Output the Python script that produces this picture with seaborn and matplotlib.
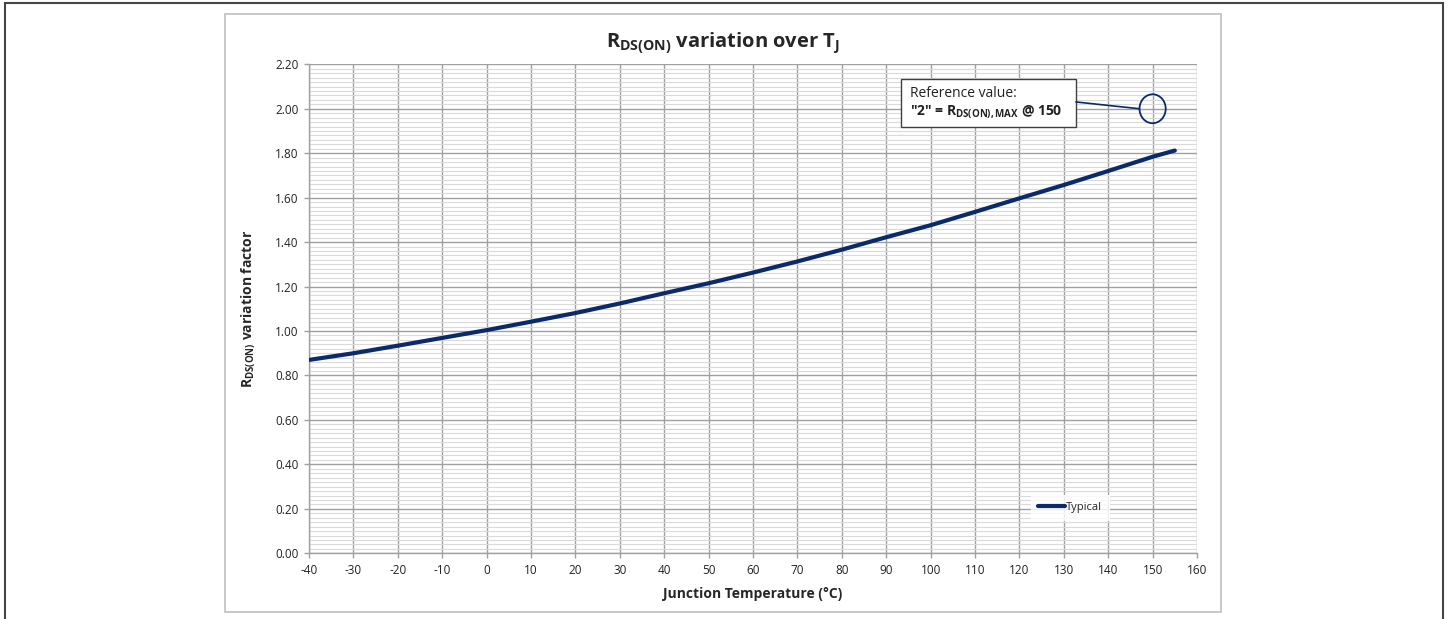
import matplotlib
matplotlib.use("Agg")
import matplotlib.pyplot as plt
from matplotlib.patches import Ellipse, Rectangle
from matplotlib.ticker import MultipleLocator
import seaborn as sns
import pandas as pd

# junction temperature (°C) and typical Rds(on) variation factor
temps = [-40, -30, -20, -10, 0, 10, 20, 30, 40, 50, 60, 70, 80, 90, 100, 110, 120, 130, 140, 150, 155]
factor = [0.870, 0.900, 0.934, 0.969, 1.004, 1.042, 1.081, 1.124, 1.170, 1.215, 1.263, 1.313, 1.366,
          1.422, 1.476, 1.536, 1.597, 1.657, 1.720, 1.784, 1.812]
x_ticks = list(range(-40, 161, 10))
y_ticks = [0.0, 0.2, 0.4, 0.6, 0.8, 1.0, 1.2, 1.4, 1.6, 1.8, 2.0, 2.2]
ref_temp = 150
ref_value = 2.0

df = pd.DataFrame({"Tj": temps, "factor": factor})

sns.set_theme(style="white")
plt.rcParams["font.family"] = ["Open Sans", "DejaVu Sans"]
plt.rcParams["axes.unicode_minus"] = False
plt.rcParams["mathtext.fontset"] = "custom"
plt.rcParams["mathtext.rm"] = "Open Sans"
plt.rcParams["mathtext.bf"] = "Open Sans:bold"
plt.rcParams["mathtext.it"] = "Open Sans:italic"

navy = "#0b2a6a"

fig = plt.figure(figsize=(14.5, 6.19), dpi=100)
ax = fig.add_axes([309 / 1450, 1 - 553.3 / 619, 888 / 1450, 489 / 619])

# chart frames
fig.patches.append(Rectangle((5 / 1450, -0.05), 1438 / 1450, 1.05 - 3 / 619, transform=fig.transFigure,
                             fill=False, edgecolor="#454545", lw=1.5))
fig.patches.append(Rectangle((225 / 1450, 1 - 612 / 619), 996 / 1450, 598 / 619, transform=fig.transFigure,
                             fill=False, edgecolor="#c4c4c4", lw=1.3))

sns.lineplot(data=df, x="Tj", y="factor", ax=ax, color=navy, lw=3, label="Typical", zorder=3)

ax.set_xlim(-40, 160)
ax.set_ylim(0, 2.2)
ax.set_xticks(x_ticks)
ax.set_yticks(y_ticks)
ax.set_yticklabels([f"{v:.2f}" for v in y_ticks])
ax.yaxis.set_minor_locator(MultipleLocator(0.02))
ax.grid(True, which="major", color="#a0a0a0", lw=1.0)
ax.grid(True, which="minor", axis="y", color="#dadada", lw=0.8)
ax.set_axisbelow(True)
for s in ["top", "right"]:
    ax.spines[s].set_visible(False)
for s in ["left", "bottom"]:
    ax.spines[s].set_color("#a0a0a0")
    ax.spines[s].set_linewidth(1.0)
ax.tick_params(axis="both", which="major", direction="out", length=3.5, width=1.0, color="#a0a0a0",
               labelsize=8.5, labelcolor="#222222", pad=4, left=True, bottom=True)
ax.tick_params(axis="y", which="minor", left=False)

ax.set_title(r"$\mathbf{R_{DS(ON)}}$ variation over $\mathbf{T_J}$", fontsize=14.5, fontweight="bold",
             x=(723 - 309) / 888, y=1.0, pad=13)
ax.set_xlabel("Junction Temperature (°C)", fontsize=10, fontweight="bold")
ax.set_ylabel(r"$\mathbf{R_{DS(ON)}}$ variation factor", fontsize=10, fontweight="bold")
ax.xaxis.set_label_coords(0.5, -0.069)
ax.yaxis.set_label_coords(-0.058, 0.5)

leg = ax.legend(loc="center", bbox_to_anchor=(0.857, 0.094), frameon=True, fontsize=8,
                handlelength=2.4, handletextpad=0.1, borderpad=0.6, fancybox=False)
leg.get_frame().set_facecolor("white")
leg.get_frame().set_edgecolor("white")

# reference value callout
ax.add_patch(Rectangle((0.6667, 0.871), 0.197, 0.099, transform=ax.transAxes, facecolor="white",
                       edgecolor="#404040", lw=1.0, zorder=4))
ax.text(0.677, 0.941, "Reference value:", transform=ax.transAxes, fontsize=10, va="center", ha="left",
        color="#222222", zorder=5)
ax.text(0.677, 0.902, r'"2" = $\mathbf{R_{DS(ON),MAX}}$ @ 150', transform=ax.transAxes, fontsize=10,
        fontweight="bold", va="center", ha="left", color="#222222", zorder=5)
ax.annotate("", xy=(ref_temp - 2.95, ref_value), xycoords="data", xytext=(0.8637, 0.923),
            textcoords="axes fraction",
            arrowprops=dict(arrowstyle="-", color=navy, lw=1.2, shrinkA=0, shrinkB=0), zorder=4)
ax.add_patch(Ellipse((ref_temp, ref_value), width=5.9, height=0.13, fill=False, edgecolor=navy, lw=1.3,
                     zorder=4))

fig.savefig("out.png", dpi=100)
